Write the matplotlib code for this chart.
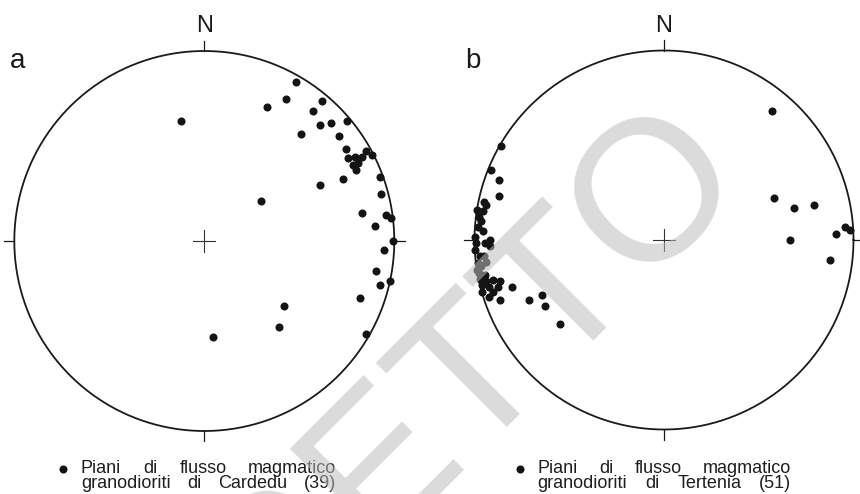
import numpy as np
import matplotlib.pyplot as plt

plt.rcParams['font.family'] = ['Liberation Sans', 'DejaVu Sans']

# Poli dei piani di flusso magmatico: trend e plunge in gradi
cardedu_trend = [30, 30, 25, 40, 40, 42, 45, 47, 50, 52,
                 57, 60, 61, 63, 61, 63, 65, 66, 70, 64,
                 63, 62, 75, 80, 82, 83, 85, 90, 93, 100,
                 102, 104, 110, 120, 349, 55, 129, 139, 175]
cardedu_plunge = [4, 15, 23, 4, 12, 25, 15, 10, 2, 11,
                  12, 14, 10, 10, 3, 1, 13, 21, 2, 33,
                  13, 7, 4, 17, 4, 1, 11, 1, 6, 9,
                  0, 5, 14, 2, 36, 60, 45, 40, 48]

tertenia_trend = [40, 69, 76, 77, 90, 88, 86, 87, 97,
                  300, 292, 290, 285, 282, 279, 279, 277, 273, 271,
                  270, 268, 267, 265, 263, 262, 260, 257, 257, 256,
                  256, 255, 254, 253, 252, 250, 246, 246, 241, 231,
                  281, 276, 274, 269, 269, 265, 263, 261, 259, 258, 253, 254]
tertenia_plunge = [12, 38, 30, 20, 34, 10, 5, 2, 13,
                   1, 2, 8, 11, 3, 0, 4, 2, 5, 0,
                   9, 9, 0, 3, 1, 3, 1, 4, 8, 12,
                   1, 5, 10, 17, 3, 9, 23, 30, 29, 30,
                   5, 3, 2, 6, 1, 5, 6, 0, 4, 1, 6, 0]

panel_labels = ['a', 'b']
legend_line1 = 'Piani di flusso magmatico'
legend_line2 = ['granodioriti di Cardedu (39)', 'granodioriti di Tertenia (51)']

W, H = 860, 494
fig = plt.figure(figsize=(W / 100, H / 100), dpi=100)
fig.patch.set_facecolor('white')


def frac(x, y):
    # pixel (dall'alto a sinistra) -> coordinate della figura
    return x / W, 1 - y / H


def schmidt(trend, plunge):
    # proiezione equiareale, emisfero inferiore
    t = np.radians(trend)
    p = np.radians(plunge)
    r = np.sqrt(2) * np.sin((np.pi / 2 - p) / 2)
    return r * np.sin(t), r * np.cos(t)


def justified(text, x0, x1, y, size):
    words = text.split()
    arts = [fig.text(0, frac(0, y)[1], w, fontsize=size, va='baseline',
                     color='#1e1e1e') for w in words]
    rend = fig.canvas.get_renderer()
    widths = [a.get_window_extent(rend).width for a in arts]
    gap = (x1 - x0 - sum(widths)) / (len(words) - 1)
    x = x0
    for a, w in zip(arts, widths):
        a.set_x(x / W)
        x += w + gap


def stereonet(cx, cy, R, trend, plunge):
    ext = 1.3
    ax = fig.add_axes([(cx - ext * R) / W, (H - cy - ext * R) / H,
                       2 * ext * R / W, 2 * ext * R / H])
    ax.set_xlim(-ext, ext)
    ax.set_ylim(-ext, ext)
    ax.axis('off')

    th = np.linspace(0, 2 * np.pi, 500)
    ax.plot(np.cos(th), np.sin(th), color='#1a1a1a', lw=1.3)
    # tacche ai punti cardinali
    for a in np.radians([0, 90, 180, 270]):
        ax.plot([np.sin(a), 1.055 * np.sin(a)], [np.cos(a), 1.055 * np.cos(a)],
                color='#1a1a1a', lw=0.9)
    # croce al centro
    ax.plot([-0.058, 0.058], [0, 0], color='#333333', lw=0.8)
    ax.plot([0, 0], [-0.058, 0.058], color='#333333', lw=0.8)

    x, y = schmidt(np.array(trend), np.array(plunge))
    ax.plot(x, y, 'o', ms=5.8, color='#141414', mec='none')
    return ax


nets = [(204.3, 241, 190.0, cardedu_trend, cardedu_plunge, 10, 63.3, 81, 336.5),
        (664.0, 240, 189.5, tertenia_trend, tertenia_plunge, 465, 520, 537.5, 791.5)]

for i, (cx, cy, R, tr, pl, lab_x, bul_x, t0, t1) in enumerate(nets):
    stereonet(cx, cy, R, tr, pl)
    fig.text(*frac(cx, 32.5), 'N', fontsize=17, ha='center', va='baseline',
             color='#1a1a1a')
    fig.text(*frac(lab_x, 68), panel_labels[i], fontsize=20, va='baseline',
             color='#1a1a1a')
    # legenda
    bx, by = frac(bul_x, 468.5)
    fig.add_artist(plt.Line2D([bx], [by], marker='o', ms=5.8, color='#141414',
                              mec='none', transform=fig.transFigure))
    justified(legend_line1, t0, t1, 472.6, 13)
    justified(legend_line2[i], t0, t1, 488.2, 13)

# filigrana
fig.text(*frac(748, 176), 'GETTO', fontsize=144, rotation=45,
         rotation_mode='anchor', ha='right', va='baseline',
         color=(0.74, 0.74, 0.74), alpha=0.55, zorder=10)

fig.savefig('out.png', dpi=100, facecolor='white')
